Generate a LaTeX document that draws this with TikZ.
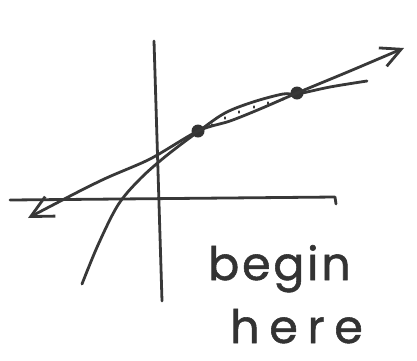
\documentclass[tikz,border=0pt]{standalone}
\usepackage{fontspec}
\newfontfamily\handfont[FakeBold=1.2]{Poppins}
\usetikzlibrary{arrows.meta}

\begin{document}
\begin{tikzpicture}[
  x=1pt, y=-1pt,
  ink/.style={draw=black!78, line width=2.8pt, line cap=round, line join=round},
  axis/.style={ink},
  curve/.style={ink},
  secant/.style={ink, {Straight Barb[length=22pt, width=22pt, line width=2.8pt]}-{Straight Barb[length=20pt, width=20pt, line width=2.8pt]}},
  tick/.style={draw=black!78, line width=2.6pt, line cap=round},
  dot/.style={circle, fill=black!80, inner sep=0pt, minimum size=13pt},
  hand/.style={font=\handfont\fontsize{46}{46}\selectfont, text=black!80, inner sep=0pt, anchor=base west}
]
\useasboundingbox (0,0) rectangle (417,360);
% ----- axes -----
\draw[axis] (154,41) -- (162,301);
\draw[axis] (10,200) -- (335,197) -- (336,204);
% ----- concave curve -----
\draw[curve] plot[smooth, tension=0.55] coordinates
  {(82,284) (98,245) (118,205) (140,179) (166,156) (199,131)
   (225,113) (253,102) (283,94) (297,94) (330,87) (367,81)};
% ----- secant through the two points -----
\node[dot] (p) at (198,131) {};
\node[dot] (q) at (297,93) {};
\coordinate (secL) at (28,218);
\coordinate (secR) at (404,48);
\draw[secant] plot[smooth, tension=0.5] coordinates
  {(secL) (100,181) (150,159) (p.center) (230,121) (260,109) (q.center) (350,71) (secR)};
% ----- dotted arc between p and q -----
\foreach \x/\y in {212/122, 225/115, 239/109, 254/104, 268/100, 283/96}{\draw[tick] (\x,\y+2.5) -- (\x,\y+3.5);}
% ----- label -----
\node[hand] (lblA) at (208,280) {\addfontfeature{LetterSpace=6}begin};
\node[hand] (lblB) at (230,343) {\addfontfeature{LetterSpace=21}here};
\end{tikzpicture}
\end{document}
